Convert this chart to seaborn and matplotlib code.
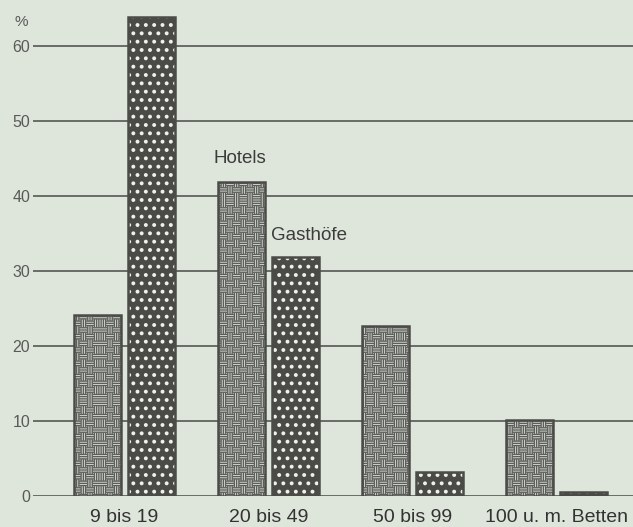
import warnings
import matplotlib
matplotlib.use("Agg")
import matplotlib.pyplot as plt
import matplotlib.hatch as mhatch
from matplotlib.path import Path
from matplotlib.patches import Rectangle
import seaborn as sns
import pandas as pd

warnings.filterwarnings("ignore")

# Betriebsgrößenklassen und Anteile (%)
groessen = ["9 bis 19", "20 bis 49", "50 bis 99", "100 u. m. Betten"]
hotels = [24.1, 41.9, 22.7, 10.1]
gasthoefe = [63.9, 31.9, 3.2, 0.5]
arten = ["Hotels", "Gasthöfe"]

df = pd.DataFrame({
    "Größe": groessen * 2,
    "Anteil": hotels + gasthoefe,
    "Art": [arten[0]] * len(groessen) + [arten[1]] * len(groessen),
})


class BasketWeave(mhatch.HatchPatternBase):
    """Flechtmuster: Felder mit abwechselnd waagerechten und senkrechten Strichen."""
    lines_per_block = 3

    def __init__(self, hatch, density):
        self.blocks = hatch.count("w") * 15
        self.num_vertices = self.blocks * self.blocks * self.lines_per_block * 2

    def set_vertices_and_codes(self, vertices, codes):
        n, m = self.blocks, self.lines_per_block
        b = 1.0 / n
        k = 0
        for i in range(n):
            for j in range(n):
                x0, y0 = i * b, j * b
                for t in range(m):
                    f = (t + 0.5) / m
                    if (i + j) % 2 == 0:
                        vertices[k] = (x0 + 0.05 * b, y0 + f * b)
                        vertices[k + 1] = (x0 + 0.95 * b, y0 + f * b)
                    else:
                        vertices[k] = (x0 + f * b, y0 + 0.05 * b)
                        vertices[k + 1] = (x0 + f * b, y0 + 0.95 * b)
                    codes[k] = Path.MOVETO
                    codes[k + 1] = Path.LINETO
                    k += 2


mhatch._hatch_types.append(BasketWeave)

bg = "#dee6dc"
ink = "#4b4b48"

sns.set_theme(style="white")
plt.rcParams["font.family"] = ["Liberation Sans", "DejaVu Sans"]

fig = plt.figure(figsize=(6.33, 5.27), dpi=100, facecolor=bg)
ax = fig.add_axes([33 / 633, 31 / 527, 600 / 633, 486 / 527])
ax.set_facecolor(bg)

sns.barplot(data=df, x="Größe", y="Anteil", hue="Art", hue_order=arten,
            order=groessen, palette=["#e0e4dd", "#4a4a47"], width=0.75,
            gap=0.13, legend=False, ax=ax, zorder=3)

styles = [
    dict(hatch="w", color="#5c5e59", lw=1.0),
    dict(hatch="..", color="#eef1ec", lw=1.6),
]
for st, cont in zip(styles, ax.containers):
    for p in cont.patches:
        p.set_hatch(st["hatch"])
        p.set_edgecolor(st["color"])
        if hasattr(p, "set_hatch_linewidth"):
            p.set_hatch_linewidth(st["lw"])
        p.set_linewidth(0)
        ax.add_patch(Rectangle(p.get_xy(), p.get_width(), p.get_height(),
                               fill=False, edgecolor=ink, linewidth=1.8,
                               zorder=4))

# Reihenbeschriftung an den Balken der zweiten Gruppe
for lbl, cont, dx, dy in [(arten[0], ax.containers[0], -1, 17),
                          (arten[1], ax.containers[1], 10, 15)]:
    p = cont.patches[1]
    ax.annotate(lbl, (p.get_x() + p.get_width() / 2, p.get_height()),
                xytext=(dx, dy), textcoords="offset points",
                ha="center", va="center", fontsize=13.5, color="#3c3c3a")

ax.set_xlim(-0.635, 3.53)
ax.set_ylim(0, 64.8)
ax.set_yticks(range(0, 61, 10))
ax.yaxis.grid(True, color="#5f625d", linewidth=1.3)
ax.set_axisbelow(True)
for s in ax.spines.values():
    s.set_visible(False)
ax.tick_params(axis="y", length=0, pad=2, labelsize=11.5, labelcolor="#5a5a57")
ax.tick_params(axis="x", length=0, pad=9, labelsize=14, labelcolor="#333331")
ax.set_xlabel("")
ax.set_ylabel("")

fig.text(21 / 633, 1 - 22 / 527, "%", ha="center", va="center",
         fontsize=11, color="#5a5a57")

fig.savefig("out.png", dpi=100, facecolor=bg)
